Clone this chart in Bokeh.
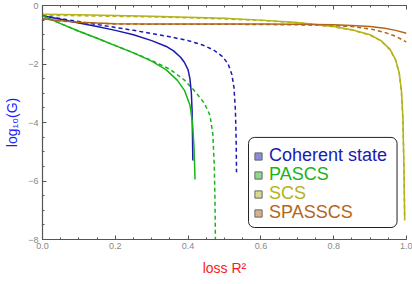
from bokeh.plotting import figure
from bokeh.models import (Range1d, FixedTicker, LinearAxis, CustomJSTickFormatter,
                          Legend, LegendItem, BoxAnnotation)
from bokeh.embed import file_html
from bokeh.resources import INLINE

# ---- data ----
coh_x = [0, 0.05, 0.1, 0.15, 0.2, 0.25, 0.3, 0.34, 0.36, 0.38, 0.39, 0.40, 0.405, 0.409, 0.411, 0.412, 0.413]
coh_y = [-0.35, -0.47, -0.6, -0.72, -0.85, -1.0, -1.2, -1.4, -1.55, -1.78, -1.95, -2.2, -2.5, -3.0, -3.6, -4.4, -5.3]
coh_d_x = [0, 0.05, 0.1, 0.15, 0.2, 0.25, 0.3, 0.35, 0.4, 0.44, 0.47, 0.495, 0.51, 0.52, 0.526, 0.53, 0.532, 0.533]
coh_d_y = [-0.35, -0.45, -0.55, -0.65, -0.75, -0.85, -0.96, -1.07, -1.2, -1.35, -1.52, -1.75, -2.0, -2.35, -2.8, -3.6, -4.6, -5.7]

pas_x = [0, 0.05, 0.1, 0.15, 0.2, 0.25, 0.3, 0.34, 0.37, 0.39, 0.405, 0.412, 0.416, 0.418, 0.419]
pas_y = [-0.35, -0.62, -0.88, -1.12, -1.37, -1.62, -1.9, -2.2, -2.55, -2.9, -3.4, -4.0, -4.8, -5.5, -5.95]
pas_d_x = [0, 0.05, 0.1, 0.15, 0.2, 0.25, 0.3, 0.35, 0.39, 0.42, 0.445, 0.46, 0.468, 0.472, 0.474, 0.475]
pas_d_y = [-0.35, -0.62, -0.88, -1.12, -1.37, -1.62, -1.88, -2.18, -2.55, -2.95, -3.35, -3.75, -4.4, -5.5, -6.8, -8.0]

scs_x = [0, 0.1, 0.2, 0.3, 0.4, 0.5, 0.6, 0.7, 0.8, 0.85, 0.9, 0.93, 0.955, 0.97, 0.98, 0.986, 0.99, 0.993, 0.995]
scs_y = [-0.3, -0.32, -0.34, -0.37, -0.4, -0.44, -0.5, -0.58, -0.72, -0.83, -1.0, -1.2, -1.5, -1.85, -2.3, -2.9, -3.8, -5.5, -7.35]
scs_d_x = [0, 0.1, 0.2, 0.3, 0.4, 0.5, 0.6, 0.7, 0.8, 0.85, 0.9, 0.93, 0.955, 0.97, 0.98, 0.986, 0.99, 0.993, 0.995]
scs_d_y = [-0.33, -0.35, -0.37, -0.39, -0.42, -0.46, -0.51, -0.59, -0.73, -0.84, -1.01, -1.21, -1.52, -1.87, -2.32, -2.95, -3.9, -5.6, -7.3]

spa_x = [0, 0.05, 0.1, 0.15, 0.2, 0.3, 0.4, 0.5, 0.6, 0.7, 0.8, 0.85, 0.9, 0.94, 0.97, 1.0]
spa_y = [-0.45, -0.52, -0.57, -0.6, -0.62, -0.63, -0.63, -0.63, -0.63, -0.64, -0.66, -0.68, -0.72, -0.78, -0.85, -0.95]
spa_d_x = [0, 0.05, 0.1, 0.15, 0.2, 0.3, 0.4, 0.5, 0.6, 0.7, 0.8, 0.85, 0.9, 0.94, 0.97, 1.0]
spa_d_y = [-0.45, -0.53, -0.58, -0.61, -0.63, -0.64, -0.64, -0.64, -0.65, -0.66, -0.69, -0.72, -0.8, -0.92, -1.05, -1.25]

series_names = ["Coherent state", "PASCS", "SCS", "SPASSCS"]
series_colors = ["#1a1ab3", "#1ab31a", "#b3b31a", "#b3661a"]

x_ticks = [0.0, 0.2, 0.4, 0.6, 0.8, 1.0]
x_minor = [i * 0.05 for i in range(21)]
y_ticks = [-8, -6, -4, -2, 0]
y_minor = [-8 + i * 0.5 for i in range(17)]

FONT = "Liberation Sans"
AX = "#555555"
TICKLAB = "#888888"

p = figure(width=412, height=284, output_backend="svg", toolbar_location=None,
           x_range=Range1d(0, 1), y_range=Range1d(-8, 0),
           min_border_left=42, min_border_right=6, min_border_top=5, min_border_bottom=45)
p.outline_line_color = None
p.xgrid.visible = False
p.ygrid.visible = False
p.background_fill_color = "white"

def style_axis(ax, ticks, minor, fmt):
    ax.ticker = FixedTicker(ticks=ticks, minor_ticks=minor)
    ax.formatter = CustomJSTickFormatter(code=fmt)
    ax.axis_line_color = AX
    ax.axis_line_width = 1.2
    ax.major_tick_line_color = AX
    ax.minor_tick_line_color = AX
    ax.major_tick_in = 4
    ax.major_tick_out = 0
    ax.minor_tick_in = 2
    ax.minor_tick_out = 0
    ax.major_label_text_font = FONT
    ax.major_label_text_color = TICKLAB
    ax.major_label_text_font_size = "9px"

xfmt = "return tick.toFixed(1);"
yfmt = "return (tick < 0 ? '\u2212' : '') + Math.abs(tick).toFixed(0);"

style_axis(p.xaxis[0], x_ticks, x_minor, xfmt)
style_axis(p.yaxis[0], y_ticks, y_minor, yfmt)
p.xaxis[0].major_label_standoff = 3
p.yaxis[0].major_label_standoff = 4

p.xaxis[0].axis_label = "loss R\u00b2"
p.xaxis[0].axis_label_text_color = "#ff1a1a"
p.xaxis[0].axis_label_text_font = FONT
p.xaxis[0].axis_label_text_font_size = "14px"
p.xaxis[0].axis_label_text_font_style = "normal"
p.xaxis[0].axis_label_standoff = 8

p.yaxis[0].axis_label = "log\u2081\u2080(G)"
p.yaxis[0].axis_label_text_color = "#1a1aff"
p.yaxis[0].axis_label_text_font = FONT
p.yaxis[0].axis_label_text_font_size = "14px"
p.yaxis[0].axis_label_text_font_style = "normal"
p.yaxis[0].axis_label_standoff = 5

# top frame edge: ticks only, no labels
top = LinearAxis()
style_axis(top, x_ticks, x_minor, "return '';")
top.major_label_standoff = 0
p.add_layout(top, "above")

lw = 1.5
dash = "4 3"
solid_sets = [(coh_x, coh_y), (pas_x, pas_y), (scs_x, scs_y), (spa_x, spa_y)]
dash_sets = [(coh_d_x, coh_d_y), (pas_d_x, pas_d_y), (scs_d_x, scs_d_y), (spa_d_x, spa_d_y)]

for (xs, ys), c in zip(dash_sets, series_colors):
    p.line(xs, ys, line_color=c, line_width=lw, line_dash=dash)
for (xs, ys), c in zip(solid_sets, series_colors):
    p.line(xs, ys, line_color=c, line_width=lw)

# legend frame (data units so it tracks the plot area)
box = BoxAnnotation(left=0.566, right=0.974, top=-4.51, bottom=-7.59,
                    fill_color="white", fill_alpha=1.0, line_color="#222222",
                    line_alpha=1.0, line_width=1, border_radius=6)
p.add_layout(box)

# one legend per entry so each label has its own colour
offsets = [73, 54, 35, 16]
nan = float("nan")
for name, c, yoff in zip(series_names, series_colors, offsets):
    r = p.scatter(x=[nan], y=[nan], marker="square", fill_color=c, fill_alpha=0.5,
                  line_color="#666666", line_width=1)
    lg = Legend(items=[LegendItem(label=name, renderers=[r])], location=(207, yoff),
                padding=0, margin=0, spacing=0, glyph_width=18, glyph_height=18,
                label_height=18, label_standoff=2, label_text_font=FONT,
                label_text_font_size="18px", label_text_color=c,
                background_fill_alpha=0, border_line_color=None)
    p.add_layout(lg, "center")

open("out.html", "w").write(file_html(p, INLINE))
